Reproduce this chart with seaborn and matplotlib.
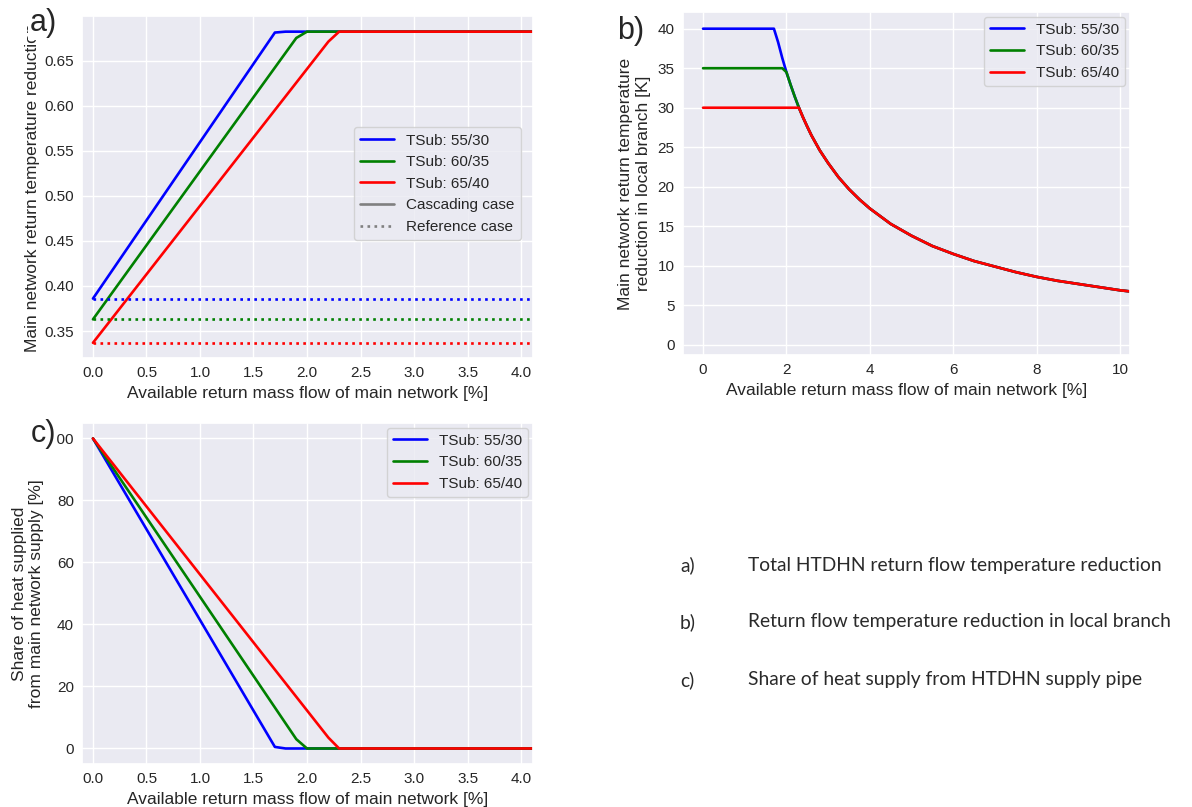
import matplotlib
matplotlib.use("Agg")
import matplotlib.pyplot as plt
from matplotlib.lines import Line2D
import seaborn as sns
import pandas as pd

sns.set_theme(style="darkgrid")
plt.rcParams['font.family'] = ['Liberation Sans', 'DejaVu Sans']

series_names = ["TSub: 55/30", "TSub: 60/35", "TSub: 65/40"]
colors = ["blue", "green", "red"]

# ---- Panel a: main network return temperature reduction (cascading case)
a_x = [[0.0, 1.7, 1.8, 10.5],
       [0.0, 1.9, 2.0, 10.5],
       [0.0, 2.2, 2.3, 10.5]]
a_y = [[0.386, 0.681, 0.682, 0.682],
       [0.363, 0.675, 0.682, 0.682],
       [0.337, 0.671, 0.682, 0.682]]
# reference case (constant)
ref_x = [0.0, 10.5]
ref_values = [0.386, 0.363, 0.337]

# ---- Panel b: return temperature reduction in local branch [K]
tail_x = [2.3, 2.4, 2.5, 2.6, 2.8, 3.0, 3.25, 3.5, 3.75, 4.0, 4.5, 5.0, 5.5,
          6.0, 6.5, 7.0, 7.5, 8.0, 8.5, 9.0, 9.5, 10.0, 10.5]
tail_y = [30.0, 28.75, 27.6, 26.5, 24.6, 23.0, 21.2, 19.7, 18.4, 17.25, 15.3,
          13.8, 12.5, 11.5, 10.6, 9.9, 9.2, 8.6, 8.1, 7.7, 7.3, 6.9, 6.6]
b_head_x = [[0.0, 1.7, 1.8, 1.9, 2.0, 2.1, 2.2],
            [0.0, 1.9, 2.0, 2.1, 2.2],
            [0.0, 2.25]]
b_head_y = [[40.0, 40.0, 38.3, 36.3, 34.5, 32.9, 31.4],
            [35.0, 35.0, 34.5, 32.9, 31.4],
            [30.0, 30.0]]

# ---- Panel c: share of heat supplied from main network supply [%]
c_x = [[0.0, 1.7, 1.8, 10.5],
       [0.0, 1.9, 2.0, 10.5],
       [0.0, 2.2, 2.3, 10.5]]
c_y = [[100.0, 0.5, 0.0, 0.0],
       [100.0, 3.0, 0.0, 0.0],
       [100.0, 3.5, 0.0, 0.0]]

xlabel = "Available return mass flow of main network [%]"
right_notes = [("a)", "Total HTDHN return flow temperature reduction"),
               ("b)", "Return flow temperature reduction in local branch"),
               ("c)", "Share of heat supply from HTDHN supply pipe")]

fig = plt.figure(figsize=(11.92, 8.07), dpi=100)
axA = fig.add_axes([0.069, 0.556, 0.378, 0.424])
axB = fig.add_axes([0.573, 0.560, 0.375, 0.425])
axC = fig.add_axes([0.069, 0.0533, 0.378, 0.4226])

LW = 1.9
FS_TICK = 11
FS_LEG = 11
FS_LAB = 12.5

def frame(xs, ys):
    return pd.DataFrame({"x": xs, "y": ys})

# Panel a
for i in range(3):
    sns.lineplot(data=frame(a_x[i], a_y[i]), x="x", y="y", ax=axA,
                 color=colors[i], lw=LW, sort=False, estimator=None)
for i in range(3):
    sns.lineplot(data=frame(ref_x, [ref_values[i]] * len(ref_x)), x="x", y="y",
                 ax=axA, color=colors[i], lw=LW, ls=":", sort=False, estimator=None)
axA.set_xlim(-0.1, 4.11)
axA.set_ylim(0.3198, 0.6992)
axA.set_xticks([0, 0.5, 1, 1.5, 2, 2.5, 3, 3.5, 4])
axA.set_yticks([0.35, 0.40, 0.45, 0.50, 0.55, 0.60, 0.65])
axA.yaxis.set_major_formatter(matplotlib.ticker.FormatStrFormatter('%.2f'))
axA.xaxis.set_major_formatter(matplotlib.ticker.FormatStrFormatter('%.1f'))
axA.set_xlabel(xlabel, fontsize=FS_LAB, labelpad=4.5)
axA.set_ylabel("Main network return temperature reduction", fontsize=FS_LAB, labelpad=3)
handles = [Line2D([], [], color=c, lw=LW) for c in colors]
handles += [Line2D([], [], color="grey", lw=LW),
            Line2D([], [], color="grey", lw=LW, ls=":")]
labels = series_names + ["Cascading case", "Reference case"]
axA.legend(handles, labels, loc="center right", fontsize=FS_LEG,
           bbox_to_anchor=(0.99, 0.51), handlelength=2.2)

# Panel b
for i in range(3):
    xs = b_head_x[i] + tail_x
    ys = b_head_y[i] + tail_y
    sns.lineplot(data=frame(xs, ys), x="x", y="y", ax=axB, color=colors[i],
                 lw=LW, sort=False, estimator=None, label=series_names[i])
axB.set_xlim(-0.48, 10.24)
axB.set_ylim(-1.3, 42.1)
axB.set_xticks([0, 2, 4, 6, 8, 10])
axB.set_yticks([0, 5, 10, 15, 20, 25, 30, 35, 40])
axB.set_xlabel(xlabel, fontsize=FS_LAB, labelpad=4.5)
axB.set_ylabel("Main network return temperature\nreduction in local branch [K]",
               fontsize=FS_LAB, labelpad=5)
axB.legend(loc="upper right", fontsize=FS_LEG, handlelength=2.2,
           borderaxespad=0.3)

# Panel c
for i in range(3):
    sns.lineplot(data=frame(c_x[i], c_y[i]), x="x", y="y", ax=axC,
                 color=colors[i], lw=LW, sort=False, estimator=None,
                 label=series_names[i])
axC.set_xlim(-0.1, 4.11)
axC.set_ylim(-5, 105)
axC.set_xticks([0, 0.5, 1, 1.5, 2, 2.5, 3, 3.5, 4])
axC.set_yticks([0, 20, 40, 60, 80, 100])
axC.xaxis.set_major_formatter(matplotlib.ticker.FormatStrFormatter('%.1f'))
axC.set_xlabel(xlabel, fontsize=FS_LAB, labelpad=4.5)
axC.set_ylabel("Share of heat supplied\nfrom main network supply [%]",
               fontsize=FS_LAB, labelpad=3)
axC.legend(loc="upper right", fontsize=FS_LEG, handlelength=2.2,
           borderaxespad=0.3)

for ax in (axA, axB, axC):
    ax.tick_params(axis="y", labelsize=FS_TICK, length=0, pad=6)
    ax.tick_params(axis="x", labelsize=FS_TICK, length=0, pad=5.5)

# panel letters (with white background, covering parts beneath)
fig.text(0.025, 0.972, "a)", fontsize=22, va="center", ha="left",
         bbox=dict(facecolor="white", edgecolor="none", pad=1.5))
fig.text(0.518, 0.962, "b)", fontsize=22, va="center", ha="left",
         bbox=dict(facecolor="white", edgecolor="none", pad=1))
fig.text(0.0255, 0.462, "c)", fontsize=22, va="center", ha="left",
         bbox=dict(facecolor="white", edgecolor="none", pad=0.8))

# explanatory notes on the right
ys_note = [1 - 565 / 807, 1 - 622 / 807, 1 - 680 / 807]
for (lab, txt), y in zip(right_notes, ys_note):
    fig.text(680 / 1192, y, lab, fontsize=13.9, family=["Lato", "DejaVu Sans"],
             va="center", ha="left", color="#2a2a2a")
    fig.text(748 / 1192, y, txt, fontsize=13.9, family=["Lato", "DejaVu Sans"],
             va="center", ha="left", color="#2a2a2a")

fig.savefig("out.png", dpi=100)
